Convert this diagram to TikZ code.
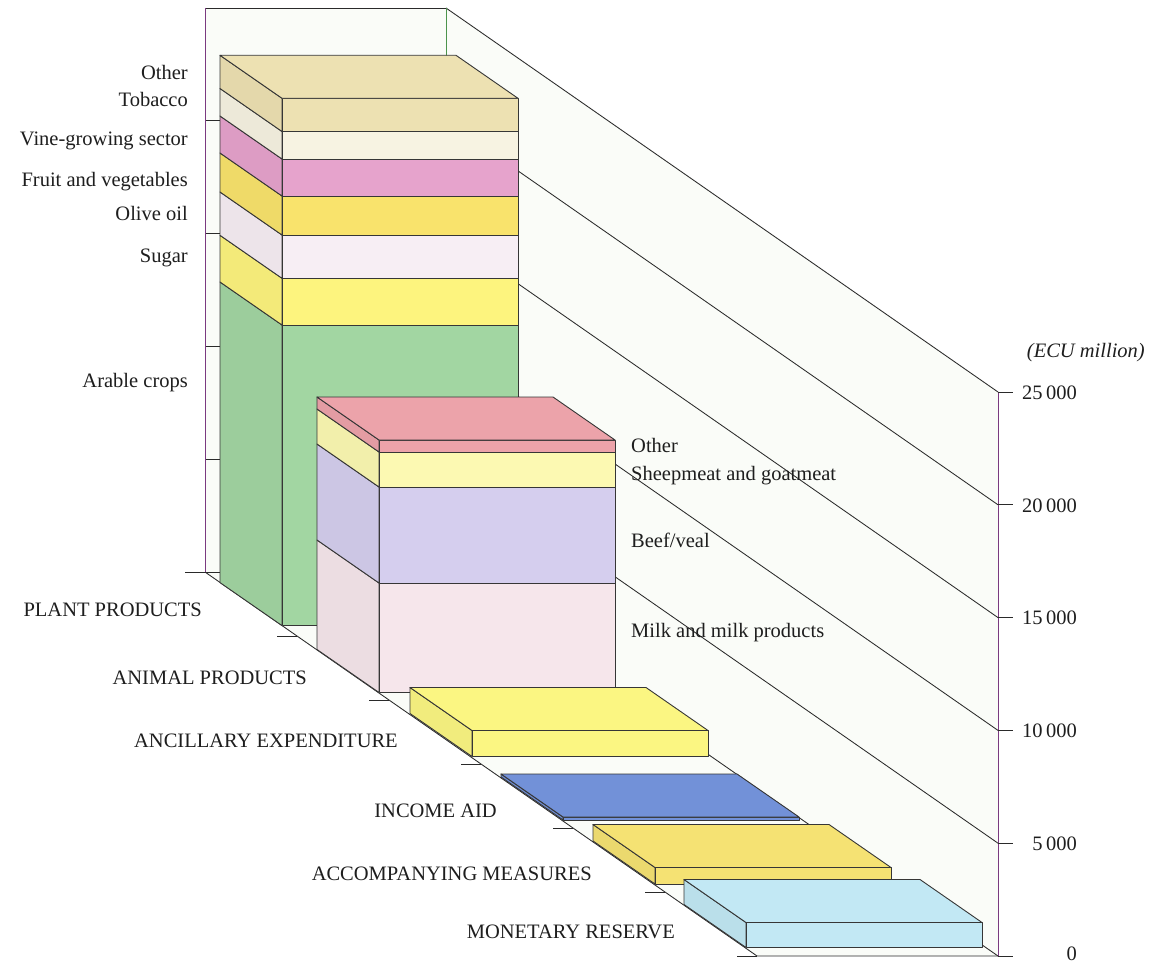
\documentclass[tikz,border=0pt]{standalone}
\usepackage{fontspec}
\setmainfont{Liberation Serif}
\definecolor{edgec}{HTML}{363636}
\definecolor{gridc}{HTML}{2A2A2A}
\definecolor{axisc}{HTML}{7A3A80}
\definecolor{wallc}{HTML}{FAFCF8}
\definecolor{txt}{HTML}{1E1E1E}
\definecolor{cArable}{HTML}{A2D6A2}
\definecolor{cSugar}{HTML}{FDF47E}
\definecolor{cOlive}{HTML}{F7EEF4}
\definecolor{cFruit}{HTML}{F9E36C}
\definecolor{cVine}{HTML}{E6A3CC}
\definecolor{cTobacco}{HTML}{F7F3E2}
\definecolor{cPOther}{HTML}{EDE1B2}
\definecolor{cAOther}{HTML}{ECA3AA}
\definecolor{cSheep}{HTML}{FCF9B2}
\definecolor{cBeef}{HTML}{D5CEEE}
\definecolor{cMilk}{HTML}{F6E6EB}
\definecolor{cAnc}{HTML}{FBF682}
\definecolor{cIncome}{HTML}{7291D8}
\definecolor{cAcc}{HTML}{F5E273}
\definecolor{cMon}{HTML}{C2E8F4}
\tikzset{
  edge/.style={draw=edgec, line width=0.9pt, line join=round},
  gridline/.style={draw=gridc, line width=0.85pt},
  axisline/.style={draw=axisc, line width=1pt},
  lbl/.style={font=\fontsize{20.5}{24}\selectfont, inner sep=0pt, text=txt},
}
% front-left x, bottom y, top y, colour
\newcommand\stacklayer[4]{%
  \filldraw[edge, fill=#4!96!black] ({#1-62},{#2-43}) -- (#1,#2) -- (#1,#3) -- ({#1-62},{#3-43}) -- cycle;
  \filldraw[edge, fill=#4] (#1,#2) rectangle ({#1+236},#3);
}
% front-left x, top y, colour
\newcommand\stacktop[3]{%
  \filldraw[edge, fill=#3] (#1,#2) -- ({#1+236},#2) -- ({#1+174},{#2-43}) -- ({#1-62},{#2-43}) -- cycle;
}
\begin{document}
\begin{tikzpicture}[x=1pt,y=-1pt]
\useasboundingbox[fill=white] (0,0) rectangle (1149,963);
% walls and floor
\fill[wallc] (205,8) rectangle (446,572);
\fill[wallc] (446,8) -- (998,392) -- (998,956) -- (446,572) -- cycle;
\fill[wallc] (205,572) -- (446,572) -- (998,956) -- (757,956) -- cycle;
% back-wall grid and side-wall grid
\foreach \k in {0,...,5} {
  \draw[gridline] (205,{572-112.8*\k}) -- (446,{572-112.8*\k});
  \draw[gridline] (446,{572-112.8*\k}) -- (998,{956-112.8*\k});
}
\draw[draw=green!40!black!70, line width=0.9pt] (446,8) -- (446,572);
% floor left edge and category ticks
\draw[gridline] (205,572) -- (757,956) -- (998,956);
\foreach \k in {0,...,6} {
  \draw[gridline] ({185+92*\k},{572+64*\k}) -- ({205+92*\k},{572+64*\k});
}
% axes
\draw[axisline] (205,8) -- (205,572);
\draw[axisline] (998,392) -- (998,956);
\foreach \k in {0,...,5} {
  \draw[gridline] (998,{956-112.8*\k}) -- (1013,{956-112.8*\k});
}
% PLANT PRODUCTS bar
\stacklayer{282}{625.6}{325}{cArable}
\stacklayer{282}{325}{278.3}{cSugar}
\stacklayer{282}{278.3}{235}{cOlive}
\stacklayer{282}{235}{196}{cFruit}
\stacklayer{282}{196}{159}{cVine}
\stacklayer{282}{159}{131.5}{cTobacco}
\stacklayer{282}{131.5}{98.3}{cPOther}
\stacktop{282}{98.3}{cPOther}
% ANIMAL PRODUCTS bar
\stacklayer{379}{692.5}{583}{cMilk}
\stacklayer{379}{583}{487}{cBeef}
\stacklayer{379}{487}{452}{cSheep}
\stacklayer{379}{452}{440}{cAOther}
\stacktop{379}{440}{cAOther}
% ANCILLARY EXPENDITURE
\stacklayer{472}{756.5}{730.5}{cAnc}
\stacktop{472}{730.5}{cAnc}
% INCOME AID
\stacklayer{563}{820}{817}{cIncome}
\stacktop{563}{817}{cIncome}
% ACCOMPANYING MEASURES
\stacklayer{655}{884}{867.5}{cAcc}
\stacktop{655}{867.5}{cAcc}
% MONETARY RESERVE
\stacklayer{746}{947.5}{922.5}{cMon}
\stacktop{746}{922.5}{cMon}
% plant labels
\node[lbl, anchor=base east] (pOther) at (188,80) {Other};
\node[lbl, anchor=base east] (pTob) at (188,107) {Tobacco};
\node[lbl, anchor=base east] (pVine) at (188,146) {Vine-growing sector};
\node[lbl, anchor=base east] (pFruit) at (188,186) {Fruit and vegetables};
\node[lbl, anchor=base east] (pOlive) at (188,220) {Olive oil};
\node[lbl, anchor=base east] (pSugar) at (188,262) {Sugar};
\node[lbl, anchor=base east] (pArable) at (188,387) {Arable crops};
% animal labels
\node[lbl, anchor=base west] (aOther) at (631,452) {Other};
\node[lbl, anchor=base west] (aSheep) at (631,480) {Sheepmeat and goatmeat};
\node[lbl, anchor=base west] (aBeef) at (631,547) {Beef/veal};
\node[lbl, anchor=base west] (aMilk) at (631,637) {Milk and milk products};
% category labels
\node[lbl, anchor=base east] (cPlant) at (202,616) {PLANT PRODUCTS};
\node[lbl, anchor=base east] (cAnimal) at (307,684) {ANIMAL PRODUCTS};
\node[lbl, anchor=base east] (cAncil) at (398,747) {ANCILLARY EXPENDITURE};
\node[lbl, anchor=base east] (cIncomeL) at (497,817) {INCOME AID};
\node[lbl, anchor=base east] (cAccomp) at (592,880) {ACCOMPANYING MEASURES};
\node[lbl, anchor=base east] (cMonet) at (675,938) {MONETARY RESERVE};
% value axis labels
\node[lbl, anchor=base east, font=\fontsize{20.5}{24}\selectfont\itshape] (unit) at (1145,357) {(ECU million)};
\node[lbl, anchor=base east] (v25) at (1077,399) {25\,000};
\node[lbl, anchor=base east] (v20) at (1077,512) {20\,000};
\node[lbl, anchor=base east] (v15) at (1077,624) {15\,000};
\node[lbl, anchor=base east] (v10) at (1077,737) {10\,000};
\node[lbl, anchor=base east] (v5) at (1077,850) {5\,000};
\node[lbl, anchor=base east] (v0) at (1077,960) {0};
\end{tikzpicture}
\end{document}
